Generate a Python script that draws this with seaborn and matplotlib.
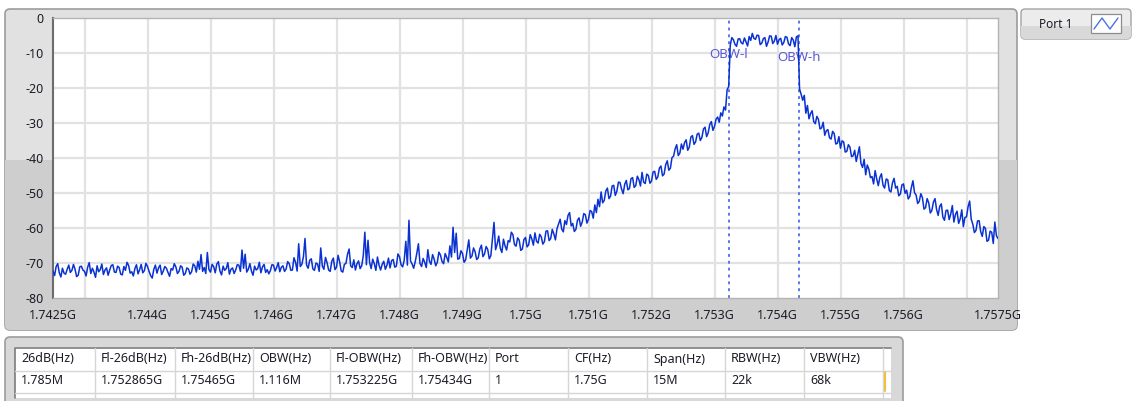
import numpy as np
import pandas as pd
import matplotlib
matplotlib.use("Agg")
import matplotlib.pyplot as plt
import seaborn as sns
from matplotlib.patches import FancyBboxPatch, Rectangle

# ---- measurement settings -------------------------------------------------
center_freq_hz = 1.75e9
span_hz = 15e6
obw_low_hz = 1.753225e9
obw_high_hz = 1.75434e9
marker_names = ["OBW-l", "OBW-h"]

# ---- trace (dBm), one row per MHz, 25 kHz apart ---------------------------
level_db = [
    -72.3, -73.6, -71.0, -70.2, -72.8, -74.0, -71.5, -72.9, -73.2, -71.8, -70.6, -72.7, -72.1, -70.4, -71.8, -73.9, -73.5, -71.1, -70.9, -72.0,
    -72.4, -73.7, -71.2, -69.9, -73.0, -71.5, -72.6, -74.1, -70.8, -72.5, -71.9, -70.3, -73.3, -72.0, -71.4, -73.5, -72.0, -70.7, -70.5, -72.6,
    -72.7, -70.9, -71.3, -73.2, -73.4, -71.0, -72.1, -69.8, -70.7, -72.9, -72.5, -73.7, -71.6, -70.5, -73.1, -71.9, -70.4, -72.8, -72.2, -70.1,
    -71.0, -72.4, -73.6, -74.3, -71.8, -70.6, -72.9, -71.4, -70.6, -73.3, -72.3, -71.0, -71.5, -72.7, -73.8, -71.6, -72.0, -70.2, -71.1, -73.0,
    -72.4, -70.8, -71.2, -73.5, -73.0, -71.4, -71.7, -73.2, -72.5, -70.3, -70.8, -72.6, -69.5, -71.8, -67.6, -72.4, -71.3, -73.0, -67.0, -71.9,
    -72.6, -70.4, -71.0, -72.8, -70.3, -69.6, -72.3, -73.4, -70.9, -72.1, -71.6, -69.9, -73.2, -71.8, -71.4, -73.0, -72.0, -70.5, -70.6, -72.4,
    -66.3, -71.5, -67.5, -72.6, -71.8, -70.2, -72.3, -73.5, -70.9, -72.0, -71.6, -69.8, -72.8, -71.1, -70.4, -72.7, -71.9, -73.1, -72.2, -70.5,
    -70.6, -72.3, -71.3, -69.9, -72.5, -71.2, -70.8, -72.4, -71.7, -69.6, -70.2, -72.1, -72.0, -68.5, -69.8, -72.3, -64.5, -71.0, -70.4, -68.2,
    -63.0, -70.6, -71.5, -69.2, -68.8, -71.7, -72.1, -70.0, -70.3, -72.4, -65.7, -70.9, -71.8, -68.4, -69.9, -72.0, -72.4, -69.5, -68.6, -71.9,
    -71.2, -67.8, -69.7, -72.3, -72.6, -70.4, -70.1, -67.5, -66.0, -70.8, -71.3, -69.1, -72.0, -70.2, -69.4, -71.6, -70.8, -67.9, -61.2, -70.5,
    -63.5, -69.8, -71.6, -68.9, -70.2, -72.1, -68.3, -70.6, -72.0, -70.4, -69.5, -71.8, -70.7, -68.6, -71.4, -69.3, -69.0, -71.2, -70.9, -67.4,
    -68.2, -70.5, -71.1, -69.2, -63.8, -70.6, -57.8, -69.4, -70.3, -71.5, -69.6, -67.2, -64.5, -70.1, -71.0, -68.7, -69.8, -71.3, -66.2, -69.5,
    -70.4, -67.6, -68.9, -70.8, -69.8, -66.9, -67.7, -69.6, -70.2, -67.3, -68.4, -69.7, -65.1, -68.3, -59.8, -67.0, -61.5, -68.9, -68.7, -66.5,
    -67.3, -69.8, -69.1, -66.2, -63.4, -68.6, -68.0, -65.7, -66.8, -69.0, -68.5, -66.0, -64.9, -68.2, -67.4, -65.3, -66.1, -68.8, -67.9, -63.0,
    -58.4, -66.2, -64.6, -62.3, -65.8, -67.0, -63.2, -65.1, -66.3, -63.6, -64.0, -61.2, -61.9, -64.7, -65.2, -62.8, -63.5, -66.4, -66.0, -63.3,
    -62.7, -65.4, -64.8, -61.9, -63.1, -64.9, -61.4, -63.8, -64.3, -61.8, -62.5, -64.6, -63.9, -60.9, -60.8, -63.6, -63.0, -60.4, -61.7, -63.4,
    -60.2, -58.8, -57.5, -60.3, -61.1, -57.9, -59.0, -56.4, -55.6, -59.4, -58.7, -61.0, -60.4, -57.8, -57.1, -59.5, -58.3, -55.9, -56.2, -58.6,
    -57.5, -55.0, -55.3, -57.2, -53.4, -55.6, -51.8, -53.9, -49.7, -52.8, -52.1, -49.4, -48.6, -51.6, -50.9, -48.0, -47.8, -50.7, -49.5, -46.9,
    -47.0, -48.9, -50.2, -47.5, -46.4, -49.1, -48.7, -45.9, -45.6, -48.4, -47.9, -45.2, -46.2, -48.0, -44.1, -46.9, -47.3, -44.6, -45.0, -47.2,
    -46.6, -44.0, -43.8, -46.1, -45.4, -42.9, -42.3, -45.1, -44.6, -41.9, -40.8, -43.5, -42.9, -39.9, -39.5, -37.4, -36.2, -39.3, -38.6, -36.0,
    -37.5, -35.6, -34.8, -37.8, -36.9, -34.0, -33.6, -36.1, -35.4, -33.2, -32.9, -35.0, -34.1, -31.7, -31.2, -33.9, -32.8, -30.4, -29.6, -32.1,
    -31.0, -28.9, -28.3, -29.8, -27.1, -28.0, -25.4, -26.3, -20.5, -19.6, -7.8, -5.6, -6.2, -7.5, -8.1, -6.0, -5.9, -7.1, -7.4, -5.7,
    -6.8, -8.0, -5.3, -6.4, -4.4, -5.8, -6.1, -4.9, -5.0, -7.6, -7.2, -5.9, -5.6, -8.1, -6.9, -5.1, -5.2, -7.3, -6.6, -5.0,
    -7.5, -6.2, -5.8, -7.7, -7.0, -5.3, -5.5, -7.4, -7.9, -5.6, -6.3, -8.2, -5.4, -5.1, -20.3, -21.8, -23.5, -22.1, -27.2, -25.0,
    -28.8, -27.3, -26.5, -29.6, -30.2, -28.1, -29.0, -31.7, -31.4, -29.8, -33.5, -32.2, -31.9, -34.2, -34.6, -32.4, -33.0, -36.0, -35.8, -33.9,
    -37.2, -35.1, -35.4, -38.3, -38.1, -36.2, -36.9, -39.6, -39.4, -37.8, -41.0, -38.9, -36.8, -41.6, -42.7, -40.4, -44.8, -42.0, -43.2, -45.6,
    -45.3, -47.4, -43.6, -46.0, -47.9, -45.5, -44.5, -47.8, -48.6, -46.0, -46.2, -49.3, -49.7, -47.1, -45.8, -48.6, -48.1, -50.8, -50.3, -47.7,
    -47.4, -50.1, -49.2, -51.7, -51.0, -48.4, -46.5, -49.9, -50.6, -53.0, -52.4, -50.2, -51.3, -54.6, -54.2, -51.6, -52.8, -55.7, -55.0, -52.6,
    -51.6, -54.7, -56.4, -53.8, -53.1, -56.9, -57.8, -55.0, -54.9, -57.6, -56.0, -53.6, -58.3, -56.1, -55.2, -58.7, -57.4, -54.8, -59.6, -57.0,
    -56.8, -53.9, -52.3, -57.5, -58.9, -61.3, -60.7, -58.0, -57.9, -61.0, -62.4, -59.6, -60.1, -63.8, -63.5, -60.9, -61.2, -64.4, -58.3, -62.2,
    -63.0,
]

# ---- axis ticks -----------------------------------------------------------
x_ticks_hz = [1.7425e9, 1.743e9, 1.744e9, 1.745e9, 1.746e9, 1.747e9, 1.748e9, 1.749e9,
              1.750e9, 1.751e9, 1.752e9, 1.753e9, 1.754e9, 1.755e9, 1.756e9, 1.757e9, 1.7575e9]
x_tick_labels = ["1.7425G", "", "1.744G", "1.745G", "1.746G", "1.747G", "1.748G", "1.749G",
                 "1.75G", "1.751G", "1.752G", "1.753G", "1.754G", "1.755G", "1.756G", "", "1.7575G"]
y_ticks_db = [0, -10, -20, -30, -40, -50, -60, -70, -80]

# ---- result table ---------------------------------------------------------
table_headers = ["26dB(Hz)", "Fl-26dB(Hz)", "Fh-26dB(Hz)", "OBW(Hz)", "Fl-OBW(Hz)", "Fh-OBW(Hz)",
                 "Port", "CF(Hz)", "Span(Hz)", "RBW(Hz)", "VBW(Hz)"]
table_values = ["1.785M", "1.752865G", "1.75465G", "1.116M", "1.753225G", "1.75434G",
                "1", "1.75G", "15M", "22k", "68k"]
legend_label = "Port 1"

# ---------------------------------------------------------------------------
sns.set_theme(style="white")
plt.rcParams["font.family"] = ["Noto Sans", "DejaVu Sans"]

W, H = 1134, 401
fig = plt.figure(figsize=(W / 100, H / 100), dpi=100)
fig.patch.set_facecolor("white")

# pixel-space layer for the instrument panels
bg = fig.add_axes([0, 0, 1, 1], zorder=0)
bg.set_xlim(0, W)
bg.set_ylim(H, 0)
bg.axis("off")

TEXT = "#1c1c28"

# graph panel
panel = FancyBboxPatch((5, 9), 1012, 321, boxstyle="round,pad=0,rounding_size=5",
                       fc="#e1e1e1", ec="#9c9c9c", lw=1.2)
bg.add_patch(panel)
lower = Rectangle((5, 160), 1012, 171, fc="#cecece", ec="none")
bg.add_patch(lower)
lower.set_clip_path(panel)

# legend panel
leg = FancyBboxPatch((1021, 9), 110, 30, boxstyle="round,pad=0,rounding_size=4",
                     fc="#ececec", ec="#a4a4a4", lw=1.0)
bg.add_patch(leg)
leg_low = Rectangle((1021, 26), 110, 14, fc="#d9d9d9", ec="none")
bg.add_patch(leg_low)
leg_low.set_clip_path(leg)
bg.text(1039, 24, legend_label, ha="left", va="center", fontsize=8.5, color=TEXT)
bg.add_patch(Rectangle((1091, 14), 30, 19, fc="white", ec="#8c8c8c", lw=0.9))
bg.plot([1094, 1102, 1110, 1118], [29, 18, 29, 18], color="#4a72e0", lw=1.0)

# table panel
tpanel = FancyBboxPatch((5, 337), 898, 70, boxstyle="round,pad=0,rounding_size=5",
                        fc="#d8d8d8", ec="#9c9c9c", lw=1.2)
bg.add_patch(tpanel)
bg.add_patch(Rectangle((15, 347), 876, 51, fc="white", ec="none"))
bg.plot([15, 15, 891], [398, 347.5, 347.5], color="#7c7c7c", lw=1.2)
col_edges = [15, 95, 175, 253, 330, 412, 489, 568, 647, 725, 804, 883]
for xe in col_edges[1:]:
    bg.plot([xe, xe], [348, 398], color="#d6d6d6", lw=1.0)
for ye in (370.5, 392.5):
    bg.plot([15, 891], [ye, ye], color="#d6d6d6", lw=1.0)
bg.plot([884.5, 884.5], [372, 391], color="#f0c040", lw=1.5)
for i, (hdr, val) in enumerate(zip(table_headers, table_values)):
    x0 = col_edges[i] + 6
    bg.text(x0, 359, hdr, ha="left", va="center", fontsize=9, color=TEXT)
    bg.text(x0, 381, val, ha="left", va="center", fontsize=9, color=TEXT)

# ---- spectrum graph -------------------------------------------------------
x0p, x1p, y0p, y1p = 53, 998, 18, 298
ax = fig.add_axes([x0p / W, 1 - y1p / H, (x1p - x0p) / W, (y1p - y0p) / H], zorder=2)
ax.set_facecolor("white")

freq_hz = np.linspace(center_freq_hz - span_hz / 2, center_freq_hz + span_hz / 2, len(level_db))
df = pd.DataFrame({"freq": freq_hz, "level": level_db})

for xt in x_ticks_hz[1:-1]:
    ax.axvline(xt, color="#e2e2e2", lw=1.6, zorder=0)
for yt in y_ticks_db[1:-1]:
    ax.axhline(yt, color="#e2e2e2", lw=1.6, zorder=0)

sns.lineplot(data=df, x="freq", y="level", ax=ax, color="#0a32d2", lw=1.1, zorder=3)

for fx, name, ty in zip([obw_low_hz, obw_high_hz], marker_names, [-10.4, -11.3]):
    ax.axvline(fx, color="#4e6fe6", lw=1.3, ls=(0, (1.6, 2.2)), zorder=2)
    ax.text(fx, ty, name, ha="center", va="center", fontsize=9.5, color="#5a5ad6", zorder=2)

ax.set_xlim(center_freq_hz - span_hz / 2, center_freq_hz + span_hz / 2)
ax.set_ylim(-80, 0)
ax.set_xticks(x_ticks_hz)
ax.set_xticklabels(x_tick_labels)
ax.set_yticks(y_ticks_db)
ax.set_yticklabels([str(v) for v in y_ticks_db])
ax.set_xlabel("")
ax.set_ylabel("")
ax.tick_params(axis="both", direction="out", length=4, width=1.3, color="#303030",
               labelsize=9, labelcolor=TEXT, pad=3)
ax.tick_params(axis="x", pad=4)
for side in ("top", "right", "bottom"):
    ax.spines[side].set_color("#b4b4b4")
    ax.spines[side].set_linewidth(1.0)
ax.spines["left"].set_color("#6c6c6c")
ax.spines["left"].set_linewidth(1.5)
ax.grid(False)

fig.savefig("out.png", dpi=100)
